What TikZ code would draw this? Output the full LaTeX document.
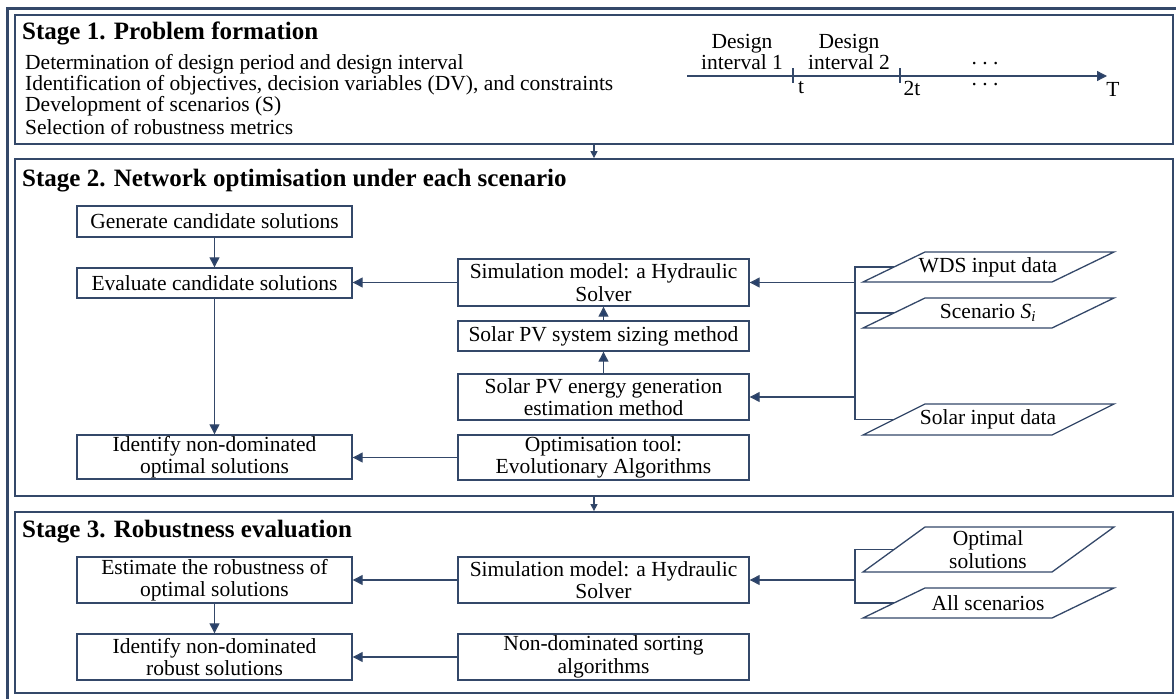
\documentclass[tikz,border=0pt]{standalone}
\usepackage{fontspec}
\setmainfont{Liberation Serif}
\usetikzlibrary{arrows.meta}
\definecolor{ln}{RGB}{52,72,105}
\definecolor{ar}{RGB}{38,64,108}
\begin{document}
\begin{tikzpicture}[x=1pt,y=-1pt,
  txt/.style={font=\fontsize{21.5}{22}\selectfont, inner sep=0pt},
  ttl/.style={font=\bfseries\fontsize{25}{28}\selectfont, inner sep=0pt, anchor=west},
  box/.style={draw=ln, line width=1.4pt, fill=white, inner sep=0pt, align=center,
              font=\fontsize{21.5}{22.5}\selectfont},
  frm/.style={draw=ln, line width=1.8pt, inner sep=0pt, minimum width=1158pt},
  con/.style={draw=ln, line width=1.3pt},
  arr/.style={con, -{Triangle[length=10pt,width=10pt,fill=ar]}},
  arrs/.style={con, -{Triangle[length=7pt,width=7pt,fill=ar]}},
  par/.style={draw=ln, line width=1.3pt, line join=miter}
]
\useasboundingbox (0,0) rectangle (1176,699);
\clip (0,0) rectangle (1176,699);
\fill[white] (0,0) rectangle (1176,699);
% outer frame
\draw[ln, line width=3pt] (7.5,710) -- (7.5,8) -- (1190,8);

% stage frames
\node[frm, minimum height=129pt] (s1) at (594,79.5) {};
\node[frm, minimum height=337pt] (s2) at (594,327.5) {};
\node[frm, minimum height=181pt] (s3) at (594,602.5) {};
\draw[arrs] (s1.south) -- (s2.north);
\draw[arrs] (s2.south) -- (s3.north);

% ---------- Stage 1
\node[ttl] (t1) at (22,33) {Stage 1. Problem formation};
\node[txt, anchor=west] (l1) at (25,64) {Determination of design period and design interval};
\node[txt, anchor=west] (l2) at (25,85) {Identification of objectives, decision variables (DV), and constraints};
\node[txt, anchor=west] (l3) at (25,106) {Development of scenarios (S)};
\node[txt, anchor=west] (l4) at (25,127) {Selection of robustness metrics};

\coordinate (ax0) at (687,76);
\coordinate (ax1) at (1107,76);
\draw[arr] (ax0) -- (ax1);
\draw[con] (793,68) -- (793,83);
\draw[con] (900,68) -- (900,83);
\node[txt, align=center, font=\fontsize{21.5}{18.5}\selectfont] (d1) at (742,52) {Design\\interval 1};
\node[txt, align=center, font=\fontsize{21.5}{18.5}\selectfont] (d2) at (849,52) {Design\\interval 2};
\node[txt] (lt) at (801,88) {t};
\node[txt] (l2t) at (912,88) {2t};
\node[txt] (lT) at (1113,89) {T};
\node[txt] (dt1) at (985,64) {.\ .\ .};
\node[txt] (dt2) at (985,85) {.\ .\ .};

% ---------- Stage 2
\node[ttl] (t2) at (22,181) {Stage 2. Network optimisation under each scenario};
\node[box, minimum width=275pt, minimum height=31pt] (gen) at (214.5,221.5) {Generate candidate solutions};
\node[box, minimum width=275pt, minimum height=30pt] (eval) at (214.5,283) {Evaluate candidate solutions};
\node[box, minimum width=275pt, minimum height=44pt] (idopt) at (214.5,457) {Identify non-dominated\\optimal solutions};
\node[box, minimum width=291pt, minimum height=47pt] (sim) at (603.5,282.5) {Simulation model: a Hydraulic\\Solver};
\node[box, minimum width=291pt, minimum height=30pt] (size) at (603.5,336) {Solar PV system sizing method};
\node[box, minimum width=291pt, minimum height=46pt] (energy) at (603.5,397) {Solar PV energy generation\\estimation method};
\node[box, minimum width=291pt, minimum height=45pt] (opt) at (603.5,457.5) {Optimisation tool:\\Evolutionary Algorithms};

\draw[arr] (gen.south) -- (eval.north);
\draw[arr] (eval.south) -- (idopt.north);
\draw[arr] (size.north) -- (sim.south);
\draw[arr] (energy.north) -- (size.south);
\draw[arr] (sim.west) -- (sim.west -| eval.east);
\draw[arr] (opt.west) -- (opt.west -| idopt.east);

% parallelograms stage 2
\draw[par] (863,282) -- (1052,282) -- (1114,252) -- (925,252) -- cycle;
\node[txt] (wds) at (988,267) {WDS input data};
\coordinate (wdsL) at (894,267);
\draw[par] (863,328) -- (1052,328) -- (1114,298) -- (925,298) -- cycle;
\node[txt] (scn) at (988,313) {Scenario {\itshape S}\textsubscript{\itshape i}};
\coordinate (scnL) at (894,313);
\draw[par] (863,435) -- (1052,435) -- (1114,404) -- (925,404) -- cycle;
\node[txt] (sol) at (988,419.5) {Solar input data};
\coordinate (solL) at (894,419.5);

\coordinate (bt) at (855,267);
\coordinate (bb) at (855,419.5);
\draw[con] (wdsL) -- (bt) -- (bb) -- (solL);
\draw[con] (scnL) -- (scnL -| bt);
\draw[arr] (bt |- sim.east) -- (sim.east);
\draw[arr] (bt |- energy.east) -- (energy.east);

% ---------- Stage 3
\node[ttl] (t3) at (22,532) {Stage 3. Robustness evaluation};
\node[box, minimum width=275pt, minimum height=46pt] (est) at (214.5,580) {Estimate the robustness of\\optimal solutions};
\node[box, minimum width=275pt, minimum height=46pt] (idrob) at (214.5,657) {Identify non-dominated\\robust solutions};
\node[box, minimum width=291pt, minimum height=46pt] (sim3) at (603.5,580) {Simulation model: a Hydraulic\\Solver};
\node[box, minimum width=291pt, minimum height=46pt] (nds) at (603.5,657) {Non-dominated sorting\\algorithms};

\draw[arr] (est.south) -- (idrob.north);
\draw[arr] (sim3.west) -- (est.east);
\draw[arr] (nds.west) -- (idrob.east);

\draw[par] (863,572) -- (1052,572) -- (1114,527) -- (925,527) -- cycle;
\node[txt, align=center, font=\fontsize{21.5}{22.5}\selectfont] (ops) at (988,549.5) {Optimal\\solutions};
\coordinate (opsL) at (894,549.5);
\draw[par] (863,618) -- (1052,618) -- (1114,588) -- (925,588) -- cycle;
\node[txt] (als) at (988,603) {All scenarios};
\coordinate (alsL) at (894,603);

\coordinate (ct) at (855,549.5);
\coordinate (cb) at (855,603);
\draw[con] (opsL) -- (ct) -- (cb) -- (alsL);
\draw[arr] (ct |- sim3.east) -- (sim3.east);
\end{tikzpicture}
\end{document}
